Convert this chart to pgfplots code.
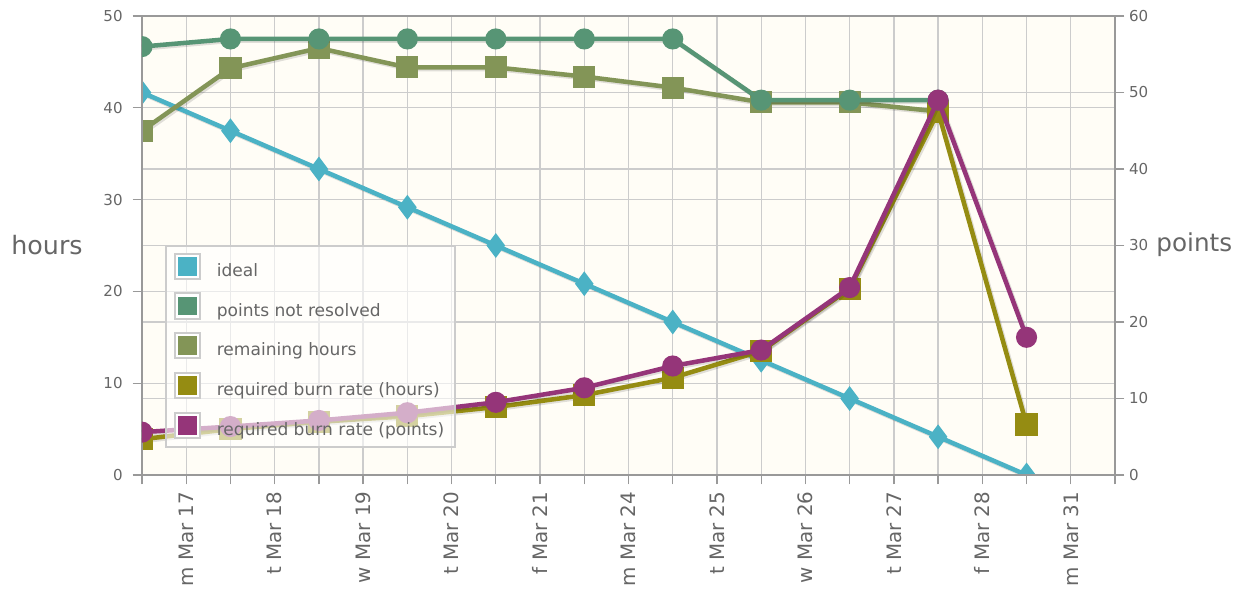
\documentclass[border=0pt]{standalone}
\usepackage{pgfplots}
\pgfplotsset{compat=1.18}
\usepackage{fontspec}
\setmainfont{DejaVu Sans}
\definecolor{cIdeal}{HTML}{4BB2C5}
\definecolor{cPts}{HTML}{579575}
\definecolor{cRem}{HTML}{839557}
\definecolor{cRbh}{HTML}{958C12}
\definecolor{cRbp}{HTML}{953579}
\definecolor{bgc}{HTML}{FFFDF6}
\definecolor{gridc}{HTML}{CCCCCC}
\definecolor{borderc}{HTML}{999999}
\definecolor{txtc}{HTML}{666666}
\pgfplotsset{
  common/.style={
    scale only axis, width=729.75pt, height=344.25pt,
    xmin=0, xmax=11,
    clip marker paths=true,
    /pgf/number format/assume math mode=true,
    tick style={draw=borderc, line width=1pt},
    major tick length=7pt, minor tick length=7pt,
    tick align=outside,
    ticklabel style={text=txtc, font=\fontsize{11.3}{13}\selectfont},
    axis line style={draw=borderc, line width=2.2pt},
  },
  shad/.style={preaction={draw=black, draw opacity=0.12, line width=3.4pt,
      transform canvas={xshift=1.3pt,yshift=-1.3pt}}},
  ser/.style={line width=3.4pt, color=#1, mark options={solid, fill=#1, draw=#1}, shad},
  sq/.style={legend image code/.code={%
      \path[draw=gridc, line width=1.5pt, fill=white, fill opacity=1, draw opacity=1] (0pt,-6pt) rectangle (19pt,13pt);
      \path[draw=none, fill=#1, fill opacity=1] (2.5pt,-3.5pt) rectangle (16.5pt,10.5pt);}},
}
\begin{document}
\begin{tikzpicture}
\begin{axis}[common,
  ymin=0, ymax=50, ytick={0,10,...,50},
  ytick pos=left, xtick pos=bottom,
  yticklabel shift=4pt,
  xtick={0.5,1.5,...,10.5},
  xticklabels={m Mar 17, t Mar 18, w Mar 19, t Mar 20, f Mar 21, m Mar 24, t Mar 25, w Mar 26, t Mar 27, f Mar 28, m Mar 31},
  minor xtick={0,1,...,11},
  xmajorgrids, xminorgrids, ymajorgrids,
  extra y ticks={8.3333,16.6667,25,33.3333,41.6667},
  extra y tick labels={},
  extra y tick style={grid=major, major tick length=0pt},
  grid style={draw=gridc, line width=1pt},
  minor grid style={draw=gridc, line width=1pt},
  xticklabel style={rotate=90, anchor=east, font=\fontsize{14.9}{16}\selectfont},
  xticklabel shift=2pt,
  axis background/.style={fill=bgc},
  ylabel={hours},
  every axis y label/.style={at={(rel axis cs:0,0.501)}, anchor=east, xshift=-41pt,
     font=\fontsize{19}{22}\selectfont, text=txtc},
]
\addplot[ser=cIdeal, mark=diamond*, mark size=6.5pt] coordinates {
 (0,41.667)(1,37.5)(2,33.333)(3,29.167)(4,25)(5,20.833)(6,16.667)(7,12.5)(8,8.333)(9,4.167)(10,0)};
\addplot[ser=cRem, mark=square*, mark size=6.6pt] coordinates {
 (0,37.5)(1,44.3)(2,46.5)(3,44.4)(4,44.4)(5,43.4)(6,42.2)(7,40.6)(8,40.6)(9,39.6)};
\addplot[ser=cRbh, mark=square*, mark size=6.6pt] coordinates {
 (0,3.9)(1,5.0)(2,5.8)(3,6.4)(4,7.4)(5,8.7)(6,10.6)(7,13.5)(8,20.3)(9,39.6)(10,5.5)};
\end{axis}
\begin{axis}[common,
  ymin=0, ymax=60, ytick={0,10,...,60},
  ytick pos=right, xtick=\empty,
  ylabel={points},
  every axis y label/.style={at={(rel axis cs:1,0.501)}, anchor=west, xshift=27.5pt,
     font=\fontsize{18.5}{22}\selectfont, text=txtc},
  legend style={at={(0.024,0.501)}, anchor=north west,
     draw=gridc, line width=1.2pt, fill=white, fill opacity=0.6, text opacity=1,
     draw opacity=1,
     font=\fontsize{12.8}{15}\selectfont, text=txtc,
     inner xsep=6pt, inner ysep=5pt, row sep=8.5pt,
     /tikz/every odd column/.append style={column sep=9.5pt}},
  legend cell align=left,
]
\addlegendimage{sq=cIdeal}
\addlegendimage{sq=cPts}
\addlegendimage{sq=cRem}
\addlegendimage{sq=cRbh}
\addlegendimage{sq=cRbp}
\addplot[ser=cPts, mark=*, mark size=6.2pt, forget plot] coordinates {
 (0,56)(1,57)(2,57)(3,57)(4,57)(5,57)(6,57)(7,49)(8,49)(9,49)};
\addplot[ser=cRbp, mark=*, mark size=6.2pt, forget plot] coordinates {
 (0,5.6)(1,6.33)(2,7.13)(3,8.14)(4,9.5)(5,11.4)(6,14.25)(7,16.33)(8,24.5)(9,49)(10,18.0)};
\legend{ideal, points not resolved, remaining hours, required burn rate (hours), required burn rate (points)}
\end{axis}
\pgfresetboundingbox
\path[use as bounding box] (-106.5pt,-87.75pt) rectangle (825pt,356.25pt);
\end{tikzpicture}
\end{document}
